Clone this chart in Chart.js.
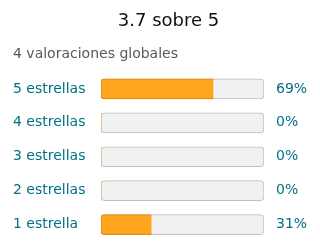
<!DOCTYPE html>
<html lang="es">
<head>
  <meta charset="UTF-8">
  <title>Valoraciones</title>
  <script src="https://cdn.jsdelivr.net/npm/chart.js"></script>
  <style>
    html, body { margin: 0; padding: 0; background: #fff; }
    #wrap { width: 320px; height: 252px; }
  </style>
</head>
<body>
  <div id="wrap"><canvas id="ratingChart" width="320" height="252"></canvas></div>

  <script>
    // datos
    const categories = ['5 estrellas', '4 estrellas', '3 estrellas', '2 estrellas', '1 estrella'];
    const percentages = [69, 0, 0, 0, 31];
    const pctLabels = ['69%', '0%', '0%', '0%', '31%'];
    const maxValue = 100;
    const titleText = '3.7 sobre 5';
    const subtitleText = '4 valoraciones globales';

    const FONT = 'DejaVu Sans';
    const TEAL = '#007185';

    new Chart(document.getElementById('ratingChart'), {
      type: 'bar',
      data: {
        labels: categories,
        datasets: [
          {
            label: 'valor',
            data: percentages,
            backgroundColor: '#FFA41C',
            borderColor: '#E0890F',
            borderWidth: ctx => (ctx.raw > 0 ? 1 : 0),
            borderRadius: 3,
            borderSkipped: 'end',
            barThickness: 20,
            grouped: false,
            order: 1
          },
          {
            label: 'fondo',
            data: categories.map(() => maxValue),
            backgroundColor: '#F0F2F2',
            borderColor: '#BDBFBF',
            borderWidth: 1,
            borderRadius: 4,
            borderSkipped: false,
            barThickness: 20,
            grouped: false,
            order: 2
          }
        ]
      },
      options: {
        indexAxis: 'y',
        responsive: false,
        animation: false,
        layout: { padding: { top: 0, left: 13, right: -4, bottom: 10.5 } },
        plugins: {
          legend: { display: false },
          tooltip: { enabled: false },
          title: {
            display: true,
            text: titleText,
            color: '#0F1111',
            font: { family: FONT, size: 18, weight: 'normal' },
            padding: { top: 11, bottom: 0 }
          },
          subtitle: {
            display: true,
            text: subtitleText,
            align: 'start',
            color: '#565959',
            font: { family: FONT, size: 14, weight: 'normal' },
            padding: { top: 13.5, bottom: 9.1 }
          }
        },
        scales: {
          x: { display: false, min: 0, max: maxValue },
          y: {
            position: 'left',
            grid: { display: false, drawTicks: false },
            border: { display: false },
            ticks: {
              color: TEAL,
              font: { family: FONT, size: 14 },
              crossAlign: 'far',
              padding: 0,
              autoSkip: false
            },
            afterFit: s => { s.width = 88; }
          },
          y2: {
            type: 'category',
            position: 'right',
            labels: pctLabels,
            offset: true,
            grid: { display: false, drawTicks: true, tickLength: 12 },
            border: { display: false },
            ticks: {
              color: TEAL,
              font: { family: FONT, size: 14 },
              padding: 0,
              autoSkip: false
            },
            afterFit: s => { s.width = 60; }
          }
        }
      }
    });
  </script>
</body>
</html>
